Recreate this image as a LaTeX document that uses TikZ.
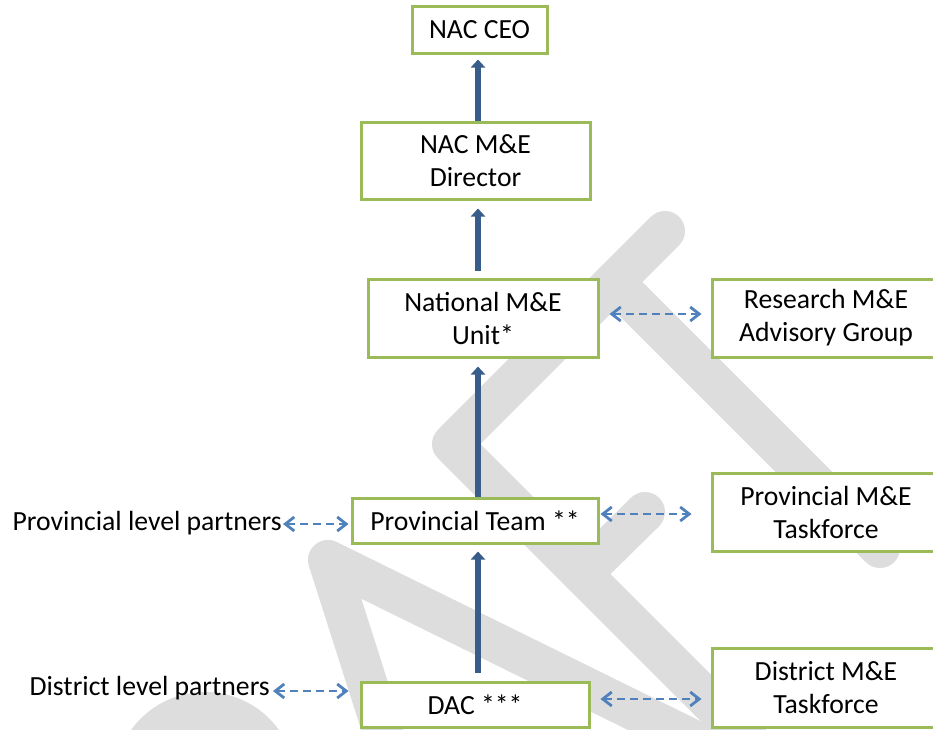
\documentclass[tikz,border=0pt]{standalone}
\usepackage{fontspec}
\setmainfont{Carlito}
\usetikzlibrary{arrows.meta}
\definecolor{boxgreen}{RGB}{155,187,89}
\definecolor{darkblue}{RGB}{56,93,138}
\definecolor{dashblue}{RGB}{79,129,189}
\definecolor{wm}{RGB}{221,221,221}
\begin{document}
\begin{tikzpicture}[x=1pt,y=-1pt,
  box/.style={draw=boxgreen,line width=3pt,fill=white,align=center,inner sep=0pt,font=\fontsize{27.7}{33}\selectfont},
  uparrow/.style={draw=darkblue,line width=6pt,-{Triangle[width=14pt,length=8pt]}},
  dbl/.style={draw=dashblue,line width=2.8pt,dash pattern=on 8pt off 5pt,{Straight Barb[length=9pt,width=14pt]}-{Straight Barb[length=9pt,width=14pt]}},
  lbl/.style={font=\fontsize{27.7}{33}\selectfont,inner sep=0pt},
  wmark/.style={draw=wm,line width=40pt,line cap=round,line join=round}]
\useasboundingbox (0,0) rectangle (933,729);
\begin{scope}
\clip (0,0) rectangle (933,729);
\fill[white] (0,0) rectangle (933,729);
% watermark (DRAFT)
\draw[wmark] (752,744) -- (452,444) -- (665,231);
\draw[wmark] (614,282) -- (880,548);
\draw[wmark] (582,574) -- (645,512);
\draw[wmark] (395,770) -- (328,560) -- (720,753);
\draw[wmark] (134,783) arc[start angle=180,end angle=360,radius=71];
% nodes
\coordinate (axis) at (478,0);
\node[box,minimum width=135pt,minimum height=47pt] (ceo) at (479.5,29.5) {NAC CEO};
\node[box,minimum width=229pt,minimum height=77pt] (dir) at (475.5,160.5) {NAC M\&E\\Director};
\node[box,minimum width=230pt,minimum height=78pt] (nat) at (483,318) {National M\&E\\Unit*};
\node[box,minimum width=228pt,minimum height=78pt] (res) at (826,318) {Research M\&E\\Advisory Group};
\node[box,minimum width=246pt,minimum height=45pt] (pt) at (475,520.5) {Provincial Team **};
\node[box,minimum width=228pt,minimum height=78pt] (pmt) at (826,512) {Provincial M\&E\\Taskforce};
\node[box,minimum width=228pt,minimum height=45pt] (dac) at (475,704.5) {DAC ***};
\node[box,minimum width=228pt,minimum height=79pt] (dmt) at (826,687.5) {District M\&E\\Taskforce};
\node[lbl,anchor=east] (ppl) at (282,523) {Provincial level partners};
\node[lbl,anchor=east] (dlp) at (270,688) {District level partners};
% solid arrows
\draw[uparrow,shorten >=5pt] (dir.north -| axis) -- (ceo.south -| axis);
\draw[uparrow,shorten <=7pt,shorten >=8pt] (nat.north -| axis) -- (dir.south -| axis);
\draw[uparrow,shorten >=8pt] (pt.north -| axis) -- (nat.south -| axis);
\draw[uparrow,shorten <=8pt,shorten >=7pt] (dac.north -| axis) -- (pt.south -| axis);
% dashed arrows
\draw[dbl] ([xshift=10pt,yshift=4pt]nat.east) -- ([xshift=-9pt,yshift=4pt]res.west);
\draw[dbl] ([xshift=1pt,yshift=6.5pt]pt.east) -- ([xshift=-19pt,yshift=6.5pt]pt.east -| pmt.west);
\draw[dbl] ([xshift=10pt,yshift=5.5pt]dac.east) -- ([xshift=-9pt,yshift=5.5pt]dac.east -| dmt.west);
\draw[dbl] ([xshift=1pt,yshift=-1pt]ppl.east) -- ([xshift=-2pt,yshift=-1pt]ppl.east -| pt.west);
\draw[dbl] ([xshift=3pt,yshift=-3pt]dlp.east) -- ([xshift=-11pt,yshift=-3pt]dlp.east -| dac.west);
\end{scope}
\end{tikzpicture}
\end{document}
